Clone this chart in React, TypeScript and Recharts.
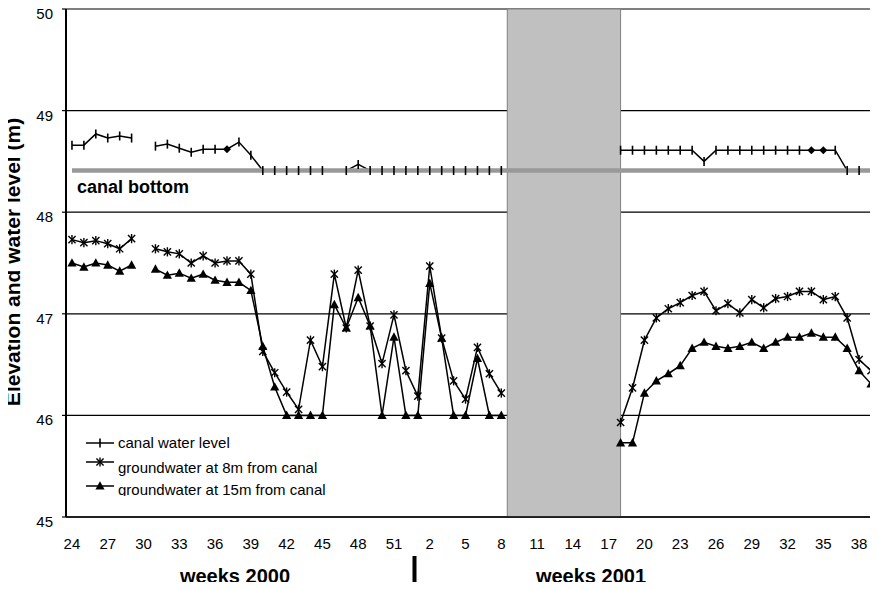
import React from 'react';
import { LineChart, Line, XAxis, YAxis, CartesianGrid, ReferenceArea, ReferenceLine } from 'recharts';

// Week labels: 2000 weeks 24..52, then 2001 weeks 1..39
const weekLabels = [
  '24','25','26','27','28','29','30','31','32','33','34','35','36','37','38','39','40','41','42','43','44','45','46','47','48','49','50','51','52',
  '1','2','3','4','5','6','7','8','9','10','11','12','13','14','15','16','17','18','19','20','21','22','23','24','25','26','27','28','29','30','31','32','33','34','35','36','37','38','39',
];

const canalLevel = [
  48.66, 48.66, 48.77, 48.73, 48.75, 48.73, null, 48.65, 48.67, 48.63, 48.59, 48.62, 48.62, 48.62, 48.69, 48.56,
  48.41, 48.41, 48.41, 48.41, 48.41, 48.41, null, 48.41, 48.47, 48.41, 48.41, 48.41, 48.41, 48.41, 48.41, 48.41,
  48.41, 48.41, 48.41, 48.41, 48.41,
  null, null, null, null, null, null, null, null, null,
  48.61, 48.61, 48.61, 48.61, 48.61, 48.61, 48.61, 48.50, 48.61, 48.61, 48.61, 48.61, 48.61, 48.61, 48.61, 48.61,
  48.61, 48.61, 48.61, 48.41, 48.41, 48.41,
];

const groundwater8m = [
  47.73, 47.70, 47.72, 47.69, 47.64, 47.74, null, 47.64, 47.61, 47.59, 47.50, 47.57, 47.50, 47.52, 47.52, 47.39,
  46.63, 46.42, 46.23, 46.06, 46.74, 46.48, 47.39, 46.86, 47.43, 46.88, 46.51, 46.99, 46.44, 46.19, 47.47, 46.76,
  46.34, 46.16, 46.67, 46.41, 46.22,
  null, null, null, null, null, null, null, null, null,
  45.93, 46.27, 46.74, 46.96, 47.05, 47.11, 47.18, 47.22, 47.03, 47.10, 47.01, 47.14, 47.06, 47.15, 47.17, 47.22,
  47.22, 47.14, 47.17, 46.96, 46.55, 46.44,
];

const groundwater15m = [
  47.50, 47.46, 47.50, 47.48, 47.42, 47.48, null, 47.44, 47.38, 47.40, 47.35, 47.39, 47.33, 47.31, 47.31, 47.23,
  46.68, 46.28, 46.00, 46.00, 46.00, 46.00, 47.09, 46.86, 47.16, 46.88, 46.00, 46.77, 46.00, 46.00, 47.30, 46.76,
  46.00, 46.00, 46.56, 46.00, 46.00,
  null, null, null, null, null, null, null, null, null,
  45.73, 45.73, 46.22, 46.34, 46.41, 46.49, 46.66, 46.72, 46.68, 46.66, 46.68, 46.72, 46.66, 46.72, 46.77, 46.77,
  46.81, 46.77, 46.77, 46.66, 46.44, 46.31,
];

const canalBottomLevel = 48.41;
const canalDiamondPoints = [13, 62, 63];
// grey period (index units: centre of week i is at i)
const dryPeriod = { from: 36.5, to: 46 };
const yTicks = [45, 46, 47, 48, 49, 50];

const data = weekLabels.map((w, i) => ({
  t: i,
  week: w,
  canal: canalLevel[i],
  gw8: groundwater8m[i],
  gw15: groundwater15m[i],
}));

const n = weekLabels.length;
const boundaryTicks = [...weekLabels.map((_, i) => i - 0.5), n - 0.5];
const labelTicks = weekLabels.map((_, i) => i).filter((i) => i % 3 === 0);
const xDomain = [-0.5, n - 0.5];

const FONT = '"Liberation Sans", Arial, sans-serif';

const CanalDot = (props: any) => {
  const { cx, cy, index } = props;
  if (cx == null || cy == null || props.value == null) return <g key={`c${index}`} />;
  if (canalDiamondPoints.includes(index)) {
    return (
      <polygon key={`c${index}`} points={`${cx},${cy - 4} ${cx + 4},${cy} ${cx},${cy + 4} ${cx - 4},${cy}`} fill="#000" />
    );
  }
  return <line key={`c${index}`} x1={cx} x2={cx} y1={cy - 4.5} y2={cy + 4.5} stroke="#000" strokeWidth={1.6} />;
};

const StarDot = (props: any) => {
  const { cx, cy, index } = props;
  if (cx == null || cy == null || props.value == null) return <g key={`s${index}`} />;
  const a = 3.6;
  return (
    <g key={`s${index}`} stroke="#000" strokeWidth={1.4}>
      <line x1={cx - a} y1={cy - a} x2={cx + a} y2={cy + a} />
      <line x1={cx - a} y1={cy + a} x2={cx + a} y2={cy - a} />
      <line x1={cx} y1={cy - 4.6} x2={cx} y2={cy + 4.6} />
    </g>
  );
};

const TriDot = (props: any) => {
  const { cx, cy, index } = props;
  if (cx == null || cy == null || props.value == null) return <g key={`t${index}`} />;
  return <polygon key={`t${index}`} points={`${cx},${cy - 4.8} ${cx - 4.6},${cy + 3.6} ${cx + 4.6},${cy + 3.6}`} fill="#000" />;
};

const WeekTick = (props: any) => {
  const { x, y, payload } = props;
  return (
    <text x={x} y={y} dy={26} textAnchor="middle" fontFamily={FONT} fontSize={15} fill="#000">
      {weekLabels[payload.value]}
    </text>
  );
};

const YTick = (props: any) => {
  const { x, y, payload } = props;
  return (
    <text x={x} y={y} dy={10} textAnchor="end" fontFamily={FONT} fontSize={15} fill="#000">
      {payload.value}
    </text>
  );
};

const legendItems = [
  { label: 'canal water level', lineY: 443, textY: 448, marker: 'plus' },
  { label: 'groundwater at 8m from canal', lineY: 462, textY: 473, marker: 'star' },
  { label: 'groundwater at 15m from canal', lineY: 486, textY: 495, marker: 'tri' },
];

const LegendMarker = ({ kind, cx, cy }: { kind: string; cx: number; cy: number }) => {
  if (kind === 'plus') return <line x1={cx} x2={cx} y1={cy - 4.5} y2={cy + 4.5} stroke="#000" strokeWidth={1.6} />;
  if (kind === 'star') {
    const a = 3.6;
    return (
      <g stroke="#000" strokeWidth={1.4}>
        <line x1={cx - a} y1={cy - a} x2={cx + a} y2={cy + a} />
        <line x1={cx - a} y1={cy + a} x2={cx + a} y2={cy - a} />
        <line x1={cx} y1={cy - 4.6} x2={cx} y2={cy + 4.6} />
      </g>
    );
  }
  return <polygon points={`${cx},${cy - 4.8} ${cx - 4.6},${cy + 3.6} ${cx + 4.6},${cy + 3.6}`} fill="#000" />;
};

export default function App() {
  return (
    <div style={{ position: 'relative', width: 878, height: 582, margin: '-8px -8px 0 -8px', fontFamily: FONT }}>
      <LineChart width={878} height={590} data={data} margin={{ top: 9, right: 0, bottom: 24, left: 0 }}>
        <CartesianGrid horizontal vertical={false} stroke="#000" strokeWidth={1.2} />
        <ReferenceArea
          x1={dryPeriod.from}
          x2={dryPeriod.to}
          y1={45}
          y2={50}
          fill="#c0c0c0"
          fillOpacity={1}
          stroke="#808080"
          strokeWidth={1}
          ifOverflow="hidden"
        />
        <XAxis
          xAxisId={0}
          dataKey="t"
          type="number"
          domain={xDomain}
          allowDataOverflow
          ticks={boundaryTicks}
          interval={0}
          tick={false}
          tickSize={4}
          tickLine={{ stroke: '#000', strokeWidth: 1.2 }}
          axisLine={{ stroke: '#000', strokeWidth: 1.6 }}
          height={6}
        />
        <XAxis
          xAxisId="lbl"
          dataKey="t"
          type="number"
          domain={xDomain}
          allowDataOverflow
          ticks={labelTicks}
          interval={0}
          tick={<WeekTick />}
          tickSize={0}
          tickMargin={0}
          tickLine={false}
          axisLine={false}
          height={43}
        />
        <YAxis
          yAxisId={0}
          domain={[45, 50]}
          ticks={yTicks}
          interval={0}
          width={66}
          allowDataOverflow
          tick={<YTick />}
          tickSize={4}
          tickMargin={9}
          tickLine={{ stroke: '#000', strokeWidth: 1.2 }}
          axisLine={{ stroke: '#000', strokeWidth: 2 }}
        />
        <YAxis
          yAxisId="right"
          orientation="right"
          domain={[45, 50]}
          width={1}
          tick={false}
          tickLine={false}
          axisLine={{ stroke: '#000', strokeWidth: 1.2 }}
        />
        <Line
          dataKey="canal"
          stroke="#000"
          strokeWidth={1.5}
          dot={<CanalDot />}
          activeDot={false}
          isAnimationActive={false}
        />
        <Line
          dataKey="gw8"
          stroke="#000"
          strokeWidth={1.5}
          dot={<StarDot />}
          activeDot={false}
          isAnimationActive={false}
        />
        <Line
          dataKey="gw15"
          stroke="#000"
          strokeWidth={1.5}
          dot={<TriDot />}
          activeDot={false}
          isAnimationActive={false}
        />
        <ReferenceLine
          segment={[
            { x: 0, y: canalBottomLevel },
            { x: n - 1, y: canalBottomLevel },
          ]}
          stroke="#999999"
          strokeWidth={4.5}
        />
      </LineChart>
      <svg
        width={878}
        height={590}
        style={{ position: 'absolute', left: 0, top: 0, pointerEvents: 'none', overflow: 'visible' }}
      >
        <defs>
          <clipPath id="legendClip">
            <rect x={78} y={428} width={260} height={68} />
          </clipPath>
        </defs>
        <text x={77} y={193} fontFamily={FONT} fontSize={18} fontWeight="bold" fill="#000">canal bottom</text>
        <text
          transform="translate(20,262) rotate(-90)"
          textAnchor="middle"
          fontFamily={FONT}
          fontSize={21}
          fontWeight="bold"
          fill="#000"
        >
          Elevation and water level (m)
        </text>
        <text x={235} y={583} textAnchor="middle" fontFamily={FONT} fontSize={20} fontWeight="bold" fill="#000">weeks 2000</text>
        <text x={591} y={583} textAnchor="middle" fontFamily={FONT} fontSize={20} fontWeight="bold" fill="#000">weeks 2001</text>
        <rect x={412.5} y={556} width={4} height={40} fill="#000" />
        <g clipPath="url(#legendClip)">
          {legendItems.map((it) => (
            <g key={it.label}>
              <line x1={86} x2={114} y1={it.lineY} y2={it.lineY} stroke="#000" strokeWidth={1.5} />
              <LegendMarker kind={it.marker} cx={100} cy={it.lineY} />
              <text x={118} y={it.textY} fontFamily={FONT} fontSize={15} fill="#000">{it.label}</text>
            </g>
          ))}
        </g>
      </svg>
    </div>
  );
}
